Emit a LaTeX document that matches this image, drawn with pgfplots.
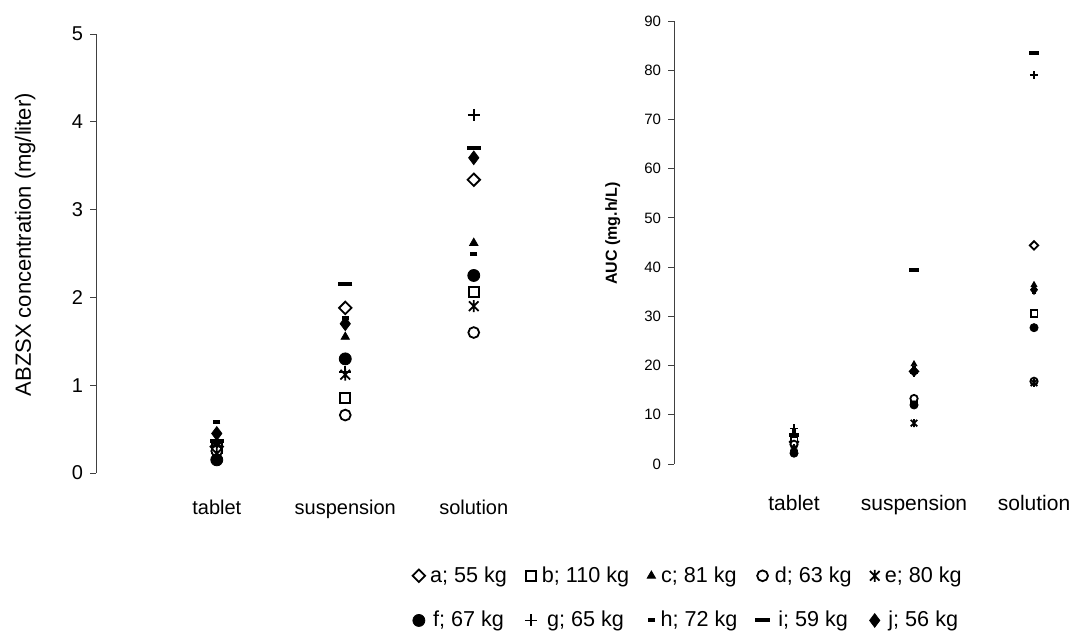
\documentclass[border=0pt]{standalone}
\usepackage{pgfplots}
\pgfplotsset{compat=1.18}
\usepackage{fontspec}
\setmainfont{Liberation Sans}

\pgfdeclareplotmark{ast}{%
 \pgfpathmoveto{\pgfqpoint{0pt}{\pgfplotmarksize}}\pgfpathlineto{\pgfqpoint{0pt}{-\pgfplotmarksize}}%
 \pgfpathmoveto{\pgfqpoint{-.8\pgfplotmarksize}{.8\pgfplotmarksize}}\pgfpathlineto{\pgfqpoint{.8\pgfplotmarksize}{-.8\pgfplotmarksize}}%
 \pgfpathmoveto{\pgfqpoint{-.8\pgfplotmarksize}{-.8\pgfplotmarksize}}\pgfpathlineto{\pgfqpoint{.8\pgfplotmarksize}{.8\pgfplotmarksize}}%
 \pgfusepathqstroke}

\def\ms{1}
\tikzset{
 ma/.style={mark=square*, mark size=\ms*2.2pt, mark options={rotate=45, fill=white, draw=black, line width=0.9pt}},
 mb/.style={mark=square*, mark size=\ms*2.5pt, mark options={fill=white, draw=black, line width=0.9pt}},
 mc/.style={mark=triangle*, mark size=\ms*2.4pt, mark options={fill=black, draw=black}},
 md/.style={mark=*, mark size=\ms*2.7pt, mark options={fill=white, draw=black, line width=0.9pt}},
 me/.style={mark=ast, mark size=\ms*3pt, mark options={draw=black, line width=0.9pt}},
 mf/.style={mark=*, mark size=\ms*3pt, mark options={fill=black, draw=black}},
 mg/.style={mark=+, mark size=\ms*3pt, mark options={draw=black, line width=0.9pt}},
 mh/.style={mark=-, mark size=\ms*1.8pt, mark options={draw=black, line width=2pt}},
 mi/.style={mark=-, mark size=\ms*3.6pt, mark options={draw=black, line width=2pt}},
 mj/.style={mark=diamond*, mark size=\ms*3.4pt, mark options={fill=black, draw=black}},
}

% concentration (mg/liter): x = 1 tablet, 2 suspension, 3 solution
\pgfplotstableread{
x a b c d e f g h i j
1 0.30 0.28 0.33 0.25 0.22 0.15 0.35 0.58 0.36 0.45
2 1.88 0.85 1.55 0.66 1.12 1.30 1.15 1.76 2.15 1.70
3 3.34 2.06 2.62 1.60 1.90 2.25 4.08 2.50 3.70 3.59
}\conc
% AUC (mg.h/L)
\pgfplotstableread{
x a b c d e f g h i j
1 4.5 4.8 3.6 4.0 3.2 2.2 7.2 6.8 5.8 2.8
2 18.8 12.8 20.3 13.3 8.3 12.0 18.5 19.5 39.5 19.0
3 44.4 30.6 36.4 16.8 16.5 27.7 79.0 35.0 83.5 35.4
}\auc

\begin{document}
\begin{tikzpicture}
\pgfplotsset{
  common/.style={
    scale only axis, clip=false,
    axis lines*=left,
    x axis line style={draw=none},
    xtick style={draw=none},
    y axis line style={black!75, line width=0.4pt},
    ytick style={black!75, line width=0.4pt},
    tick align=outside,
    major tick length=3pt,
    xtick={1,2,3},
    xticklabels={tablet,suspension,solution},
    /pgf/number format/assume math mode=true,
  },
}
\def\ms{1}
\begin{axis}[common,
  at={(48pt,-236.5pt)}, anchor=south west,
  width=221pt, height=219.5pt,
  xmin=0.06, xmax=3.5, ymin=0, ymax=5,
  ytick={0,1,2,3,4,5},
  yticklabel style={font=\fontsize{10}{12}\selectfont},
  xticklabel style={font=\fontsize{10}{12}\selectfont, yshift=-7pt},
  ylabel={ABZSX concentration (mg/liter)},
  ylabel style={font=\fontsize{11}{13}\selectfont, at={(axis description cs:-0.16,0.52)}, anchor=center},
  legend columns=5,
  legend style={at={(axis description cs:1.342,-0.285)}, anchor=center, draw=none, fill=none,
    font=\fontsize{10.8}{13}\selectfont, row sep=9pt, inner sep=0pt,
    /tikz/every odd column/.append style={column sep=0.5pt},
    /tikz/every even column/.append style={column sep=7pt}},
  legend image code/.code={\def\ms{1.15}\draw[mark repeat=2,mark phase=2,#1] plot coordinates {(-0.12cm,0cm)(0cm,0cm)(0.12cm,0cm)};},
]
\addplot[only marks, ma] table[x=x,y=a]{\conc}; \addlegendentry{a; 55 kg}
\addplot[only marks, mb] table[x=x,y=b]{\conc}; \addlegendentry{b; 110 kg}
\addplot[only marks, mc] table[x=x,y=c]{\conc}; \addlegendentry{c; 81 kg}
\addplot[only marks, md] table[x=x,y=d]{\conc}; \addlegendentry{d; 63 kg}
\addplot[only marks, me] table[x=x,y=e]{\conc}; \addlegendentry{e; 80 kg}
\addplot[only marks, mf] table[x=x,y=f]{\conc}; \addlegendentry{f; 67 kg}
\addplot[only marks, mg] table[x=x,y=g]{\conc}; \addlegendentry{g; 65 kg}
\addplot[only marks, mh] table[x=x,y=h]{\conc}; \addlegendentry{h; 72 kg}
\addplot[only marks, mi] table[x=x,y=i]{\conc}; \addlegendentry{i; 59 kg}
\addplot[only marks, mj] table[x=x,y=j]{\conc}; \addlegendentry{j; 56 kg}
\end{axis}

\def\ms{0.68}
\begin{axis}[common,
  at={(337pt,-232pt)}, anchor=south west,
  width=204pt, height=221.5pt,
  xmin=0, xmax=3.4, ymin=0, ymax=90,
  ytick={0,10,...,90},
  yticklabel style={font=\fontsize{7.5}{9}\selectfont},
  xticklabel style={font=\fontsize{10.5}{12}\selectfont, yshift=-9pt},
  ylabel={AUC (mg.h/L)},
  ylabel style={font=\bfseries\fontsize{8}{10}\selectfont, at={(axis description cs:-0.15,0.52)}, anchor=center},
]
\addplot[only marks, ma] table[x=x,y=a]{\auc};
\addplot[only marks, mb] table[x=x,y=b]{\auc};
\addplot[only marks, mc] table[x=x,y=c]{\auc};
\addplot[only marks, md] table[x=x,y=d]{\auc};
\addplot[only marks, me] table[x=x,y=e]{\auc};
\addplot[only marks, mf] table[x=x,y=f]{\auc};
\addplot[only marks, mg] table[x=x,y=g]{\auc};
\addplot[only marks, mh] table[x=x,y=h]{\auc};
\addplot[only marks, mi] table[x=x,y=i]{\auc};
\addplot[only marks, mj] table[x=x,y=j]{\auc};
\end{axis}

\pgfresetboundingbox
\useasboundingbox (0,0) rectangle (539.5pt,-321.5pt);
\end{tikzpicture}
\end{document}
